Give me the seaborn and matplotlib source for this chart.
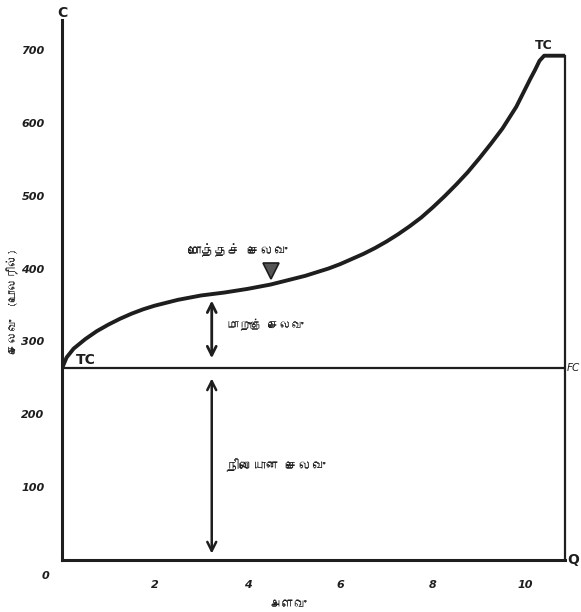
import numpy as np
import pandas as pd
import matplotlib
matplotlib.use('Agg')
import matplotlib.pyplot as plt
from matplotlib import font_manager
from matplotlib.ft2font import FT2Font
import seaborn as sns

# quantity (அளவு) and total cost
qty = [0, 0.1, 0.25, 0.5, 0.75, 1.0, 1.25, 1.5, 1.75, 2.0, 2.25, 2.5, 2.75, 3.0,
       3.25, 3.5, 3.75, 4.0, 4.25, 4.5, 4.75, 5.0, 5.25, 5.5, 5.75, 6.0, 6.25, 6.5,
       6.75, 7.0, 7.25, 7.5, 7.75, 8.0, 8.25, 8.5, 8.75, 9.0, 9.25, 9.5, 9.65, 9.8,
       9.95, 10.1, 10.2, 10.3, 10.4, 10.85]
total_cost = [263, 278, 290, 303, 314, 323, 331, 338, 344, 349, 353, 357, 360, 363,
              365, 367, 369.5, 372, 375, 378, 382, 386, 390, 395, 400, 406, 413, 420,
              428, 437, 447, 458, 470, 484, 499, 515, 532, 551, 571, 592, 607, 622,
              641, 660, 672, 685, 692, 692]
fixed_cost = 263

x_ticks = [2, 4, 6, 8, 10]
y_ticks = [100, 200, 300, 400, 500, 600, 700]

lbl_total = 'மொத்தச் செலவு'
lbl_var = 'மாறுஞ் செலவு'
lbl_fixed = 'நிலையான செலவு'
lbl_y = 'செலவு  (டொலரில்)'
lbl_x = 'அளவு'


def find_tamil_font():
    for f in font_manager.fontManager.ttflist:
        try:
            cmap = FT2Font(f.fname).get_charmap()
        except Exception:
            continue
        if 0x0B9A in cmap and 0x0BB5 in cmap:
            return f.name
    return None


sns.set_style('white')
tamil = find_tamil_font()
fams = ([tamil] if tamil else []) + ['DejaVu Sans']
plt.rcParams['font.family'] = fams

df = pd.DataFrame({'Q': qty, 'C': total_cost})
ink = '#1e1e1e'

fig = plt.figure(figsize=(5.81, 6.12), dpi=100)
ax = fig.add_axes([62 / 581, 52 / 612, (565 - 62) / 581, (560 - 20) / 612])

sns.lineplot(data=df, x='Q', y='C', ax=ax, color=ink, linewidth=2.8, estimator=None,
             solid_joinstyle='round')
ax.axhline(fixed_cost, color=ink, linewidth=1.6)

ax.set_xlim(0, qty[-1])
ax.set_ylim(0, 741)

ax.spines['top'].set_visible(False)
for s in ['left', 'bottom', 'right']:
    ax.spines[s].set_color(ink)
    ax.spines[s].set_linewidth(2.2)
ax.spines['right'].set_bounds(0, total_cost[-1])
ax.spines['right'].set_linewidth(1.6)

ax.set_xticks(x_ticks)
ax.set_yticks(y_ticks)
ax.tick_params(axis='both', direction='inout', length=5, width=1.5, colors=ink,
               labelsize=8, pad=10)
ax.tick_params(axis='x', pad=12)
for t in ax.get_xticklabels() + ax.get_yticklabels():
    t.set_fontstyle('italic')
    t.set_fontweight('bold')
    t.set_family('DejaVu Sans')
ax.set_xlabel(lbl_x, fontsize=9, color=ink)
ax.set_ylabel(lbl_y, fontsize=8.5, color=ink)
ax.yaxis.set_label_coords(-0.085, 0.48)
ax.xaxis.set_label_coords(0.45, -0.075)

# axis letters
ax.text(0, 1.0, 'C', transform=ax.transAxes, ha='center', va='bottom',
        fontsize=10, fontweight='bold', color=ink, family='DejaVu Sans')
ax.text(1.005, 0, 'Q', transform=ax.transAxes, ha='left', va='center',
        fontsize=10, fontweight='bold', color=ink, family='DejaVu Sans')
ax.text(-0.025, -0.03, '0', transform=ax.transAxes, ha='right', va='center',
        fontsize=8, fontweight='bold', fontstyle='italic', color=ink, family='DejaVu Sans')

# curve labels
ax.annotate('TC', (qty[2], fixed_cost), xytext=(2, 3), textcoords='offset points',
            fontsize=10, fontweight='bold', color=ink, family='DejaVu Sans')
ax.annotate('TC', (qty[-2], total_cost[-1]), xytext=(0, 3), textcoords='offset points',
            ha='center', va='bottom', fontsize=9, fontweight='bold', color=ink,
            family='DejaVu Sans')
ax.annotate('FC', (qty[-1], fixed_cost), xytext=(1, 0), textcoords='offset points',
            ha='left', va='center', fontsize=7.5, fontstyle='italic', color=ink,
            family='DejaVu Sans', annotation_clip=False)

# total cost pointer
q_tri = 4.5
c_tri = np.interp(q_tri, qty, total_cost)
ax.plot([q_tri], [c_tri + 18], marker='v', markersize=11, color='#555555',
        markeredgecolor=ink, markeredgewidth=1.2)
ax.text(q_tri - 0.7, c_tri + 38, lbl_total, ha='center', va='bottom',
        fontsize=9.5, color=ink)

# variable and fixed cost arrows
q_arr = 3.23
c_arr = np.interp(q_arr, qty, total_cost)
ax.annotate('', xy=(q_arr, c_arr - 5), xytext=(q_arr, fixed_cost + 10),
            arrowprops=dict(arrowstyle='<->', color=ink, lw=2, mutation_scale=16))
ax.annotate('', xy=(q_arr, fixed_cost - 10), xytext=(q_arr, 5),
            arrowprops=dict(arrowstyle='<->', color=ink, lw=1.8, mutation_scale=16))
ax.text(q_arr + 0.32, (c_arr + fixed_cost) / 2 + 8, lbl_var, ha='left', va='center',
        fontsize=8.5, color=ink)
ax.text(q_arr + 0.3, 130, lbl_fixed, ha='left', va='center', fontsize=9.5, color=ink)

fig.savefig('out.png', dpi=100)
